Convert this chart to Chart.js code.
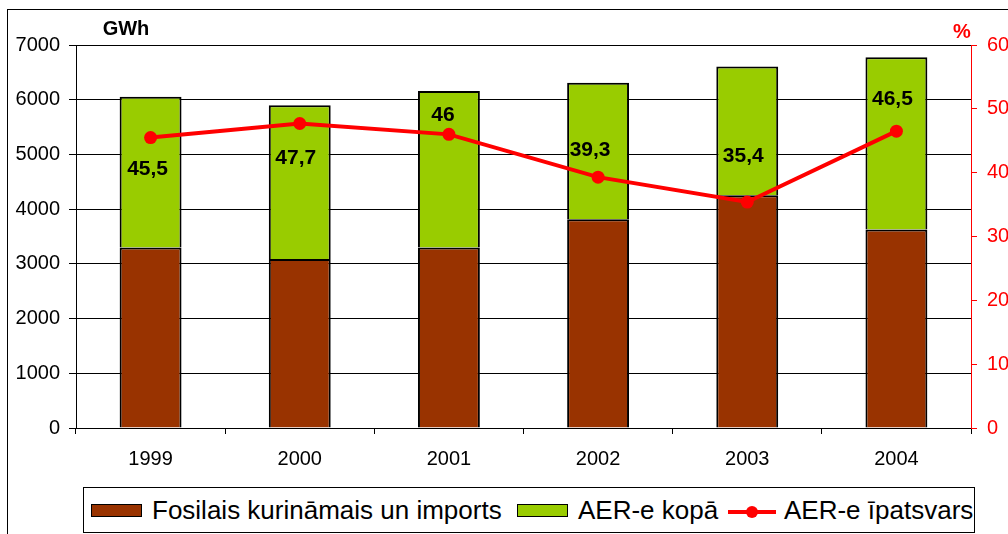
<!DOCTYPE html>
<html>
<head>
<meta charset="utf-8">
<script src="https://cdn.jsdelivr.net/npm/chart.js@4.4.1/dist/chart.umd.min.js"></script>
<style>
  html, body { margin: 0; padding: 0; background: #fff; }
  #wrap { position: relative; width: 1008px; height: 534px; overflow: hidden; font-family: Arial, 'Liberation Sans', sans-serif; }
  #frame { position: absolute; left: 7px; top: 9px; width: 1100px; height: 600px; border: 1px solid #000; }
  canvas { position: absolute; left: 0; top: 0; }
  #legend { position: absolute; left: 83px; top: 487px; width: 890px; height: 44px; border: 1px solid #000; background: #fff; font-size: 26px; line-height: 44px; color: #000; white-space: nowrap; }
  #legend span { position: absolute; top: 0; }
  #legend .sw { position: absolute; top: 16px; width: 49px; height: 11px; border: 1.5px solid #000; }
  #legend .ln { position: absolute; top: 22px; width: 48px; height: 4px; background: #ff0000; }
  #legend .dot { position: absolute; top: 18px; width: 12px; height: 12px; border-radius: 50%; background: #ff0000; }
</style>
</head>
<body>
<div id="wrap">
  <div id="frame"></div>
  <canvas id="chart" width="1008" height="534"></canvas>
  <div id="legend">
    <div class="sw" style="left:7px;background:#993300"></div>
    <span style="left:68px">Fosilais kurināmais un imports</span>
    <div class="sw" style="left:433px;background:#99cc00"></div>
    <span style="left:494px">AER-e kopā</span>
    <div class="ln" style="left:644px"></div>
    <div class="dot" style="left:662px"></div>
    <span style="left:700px">AER-e īpatsvars</span>
  </div>
</div>
<script>
// values
const years = ['1999', '2000', '2001', '2002', '2003', '2004'];
const fossil = [3300, 3090, 3300, 3815, 4255, 3630];     // GWh
const aerTotal = [2755, 2810, 2860, 2495, 2350, 3145];   // GWh
const aerShare = [45.5, 47.7, 46, 39.3, 35.4, 46.5];     // %
const gwhTicks = [0, 1000, 2000, 3000, 4000, 5000, 6000, 7000];
const pctTicks = [0, 10, 20, 30, 40, 50, 60];

const FONT = "Arial, 'Liberation Sans', sans-serif";

// where each percent label sits relative to its point (Excel placed them by hand)
const labelShift = [[-3, 32], [-4, 35], [-6, -19], [-8, -27], [-4, -46], [-4, -32]];

const pointLabels = {
    id: 'pointLabels',
    afterDatasetsDraw(chart) {
        const ctx = chart.ctx;
        const meta = chart.getDatasetMeta(0);
        ctx.save();
        ctx.font = 'bold 21px ' + FONT;
        ctx.fillStyle = '#000';
        ctx.textAlign = 'center';
        ctx.textBaseline = 'middle';
        meta.data.forEach((pt, i) => {
            const txt = String(aerShare[i]).replace('.', ',');
            ctx.fillText(txt, pt.x + labelShift[i][0], pt.y + labelShift[i][1]);
        });
        ctx.restore();
    }
};

const axisUnits = {
    id: 'axisUnits',
    afterDraw(chart) {
        const ctx = chart.ctx;
        ctx.save();
        ctx.font = 'bold 20px ' + FONT;
        ctx.textAlign = 'center';
        ctx.textBaseline = 'middle';
        ctx.fillStyle = '#000';
        ctx.fillText('GWh', 126, 29);
        ctx.fillStyle = '#ff0000';
        ctx.fillText('%', 962, 32);
        ctx.restore();
    }
};

const ctx = document.getElementById('chart').getContext('2d');
new Chart(ctx, {
    type: 'bar',
    data: {
        labels: years,
        datasets: [
            {
                type: 'line',
                label: 'AER-e īpatsvars',
                data: aerShare,
                yAxisID: 'y1',
                borderColor: '#ff0000',
                backgroundColor: '#ff0000',
                borderWidth: 4,
                pointRadius: 6.5,
                pointBorderWidth: 0,
                pointBackgroundColor: '#ff0000',
                tension: 0,
                order: 0
            },
            {
                label: 'Fosilais kurināmais un imports',
                data: fossil,
                backgroundColor: '#993300',
                borderColor: '#000',
                borderWidth: 2,
                yAxisID: 'y',
                order: 1
            },
            {
                label: 'AER-e kopā',
                data: aerTotal,
                backgroundColor: '#99cc00',
                borderColor: '#000',
                borderWidth: 2,
                yAxisID: 'y',
                order: 2
            }
        ]
    },
    options: {
        responsive: false,
        animation: false,
        layout: { padding: { top: 45, bottom: 66, left: 0, right: 0 } },
        datasets: { bar: { categoryPercentage: 1, barPercentage: 0.415 } },
        plugins: {
            legend: { display: false },
            tooltip: { enabled: false }
        },
        scales: {
            x: {
                stacked: true,
                grid: { display: true, drawOnChartArea: false, offset: true, color: '#000', tickLength: 6 },
                border: { color: '#000' },
                ticks: { font: { family: FONT, size: 20 }, color: '#000', padding: 13 },
                afterFit: s => { s.height = 40; }
            },
            y: {
                stacked: true,
                position: 'left',
                min: 0,
                max: 7000,
                afterBuildTicks: s => { s.ticks = gwhTicks.map(v => ({ value: v })); },
                ticks: { font: { family: FONT, size: 20 }, color: '#000', padding: 9, callback: v => String(v) },
                grid: { color: '#000', lineWidth: 1, tickLength: 7 },
                border: { color: '#000' },
                afterFit: s => { s.width = 76; }
            },
            y1: {
                position: 'right',
                min: 0,
                max: 60,
                afterBuildTicks: s => { s.ticks = pctTicks.map(v => ({ value: v })); },
                ticks: { font: { family: FONT, size: 20 }, color: '#ff0000', padding: 10, callback: v => String(v) },
                grid: { drawOnChartArea: false, color: '#ff0000', tickLength: 6 },
                border: { color: '#ff0000' },
                afterFit: s => { s.width = 37; }
            }
        }
    },
    plugins: [pointLabels, axisUnits]
});
</script>
</body>
</html>
